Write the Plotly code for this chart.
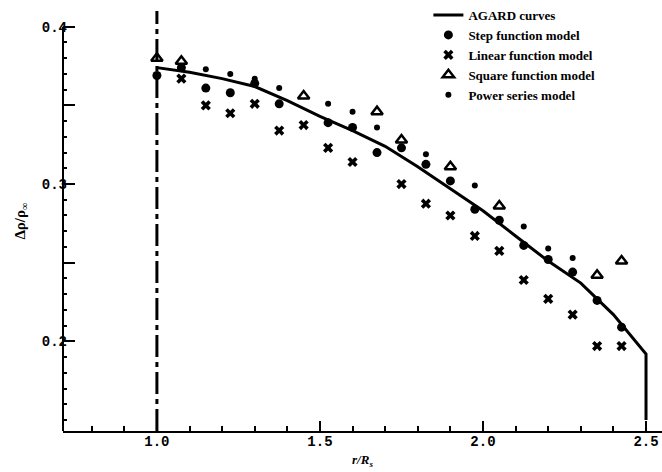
import plotly.graph_objects as go

# AGARD curve
agard_x = [1.0, 1.1, 1.2, 1.3, 1.4, 1.5, 1.6, 1.7, 1.8, 1.9, 2.0, 2.1, 2.2, 2.3, 2.4, 2.5, 2.5]
agard_y = [0.374, 0.371, 0.367, 0.362, 0.353, 0.343, 0.334, 0.324, 0.311, 0.297, 0.283,
           0.267, 0.251, 0.237, 0.217, 0.192, 0.150]

# Step function model
step_x = [1.0, 1.075, 1.15, 1.225, 1.3, 1.375, 1.525, 1.6, 1.675, 1.75, 1.825, 1.9,
          1.975, 2.05, 2.125, 2.2, 2.275, 2.35, 2.425]
step_y = [0.369, 0.374, 0.361, 0.358, 0.364, 0.351, 0.339, 0.336, 0.320, 0.323, 0.3125,
          0.302, 0.284, 0.277, 0.261, 0.252, 0.244, 0.226, 0.209]

# Linear function model
lin_x = [1.075, 1.15, 1.225, 1.3, 1.375, 1.45, 1.525, 1.6, 1.75, 1.825, 1.9, 1.975,
         2.05, 2.125, 2.2, 2.275, 2.35, 2.425]
lin_y = [0.367, 0.350, 0.345, 0.351, 0.334, 0.3375, 0.323, 0.314, 0.300, 0.2875, 0.280,
         0.267, 0.2575, 0.239, 0.227, 0.217, 0.197, 0.197]

# Square function model
sq_x = [1.0, 1.075, 1.45, 1.675, 1.75, 1.9, 2.05, 2.35, 2.425]
sq_y = [0.380, 0.378, 0.356, 0.346, 0.328, 0.311, 0.286, 0.242, 0.251]

# Power series model
pw_x = [1.15, 1.225, 1.3, 1.375, 1.525, 1.6, 1.675, 1.825, 1.975, 2.125, 2.2, 2.275]
pw_y = [0.373, 0.370, 0.367, 0.361, 0.351, 0.346, 0.336, 0.319, 0.299, 0.273, 0.259, 0.253]

x_range = [0.712, 2.549]
y_range = [0.143, 0.410]
y_tickvals = [0.2, 0.25, 0.3, 0.35, 0.4]
y_ticktext = ["0.2", "", "0.3", "", "0.4"]
x_tickvals = [1.0, 1.5, 2.0, 2.5]
x_ticktext = ["1.0", "1.5", "2.0", "2.5"]

FONT = "Liberation Serif"
MONO = "Liberation Mono"
BLACK = "black"

fig = go.Figure()
fig.add_trace(go.Scatter(x=agard_x, y=agard_y, mode="lines", name="AGARD curves",
                         line=dict(color=BLACK, width=3)))
fig.add_trace(go.Scatter(x=step_x, y=step_y, mode="markers", name="Step function model",
                         marker=dict(symbol="circle", size=9, color=BLACK)))
fig.add_trace(go.Scatter(x=lin_x, y=lin_y, mode="markers", name="Linear function model",
                         marker=dict(symbol="x", size=9, color=BLACK)))
fig.add_trace(go.Scatter(x=sq_x, y=sq_y, mode="markers", name="Square function model",
                         marker=dict(symbol="triangle-up-open", size=10, color=BLACK,
                                     line=dict(width=2.5, color=BLACK))))
fig.add_trace(go.Scatter(x=pw_x, y=pw_y, mode="markers", name="Power series model",
                         marker=dict(symbol="circle", size=6, color=BLACK)))

# vertical dash-dot line at r/R = 1.0
fig.add_shape(type="line", xref="x", yref="paper", x0=x_tickvals[0], x1=x_tickvals[0],
              y0=0, y1=1, line=dict(color=BLACK, width=3, dash="22px,5px,5px,5px"), layer="above")
# y axis line from bottom up to 0.4
fig.add_shape(type="line", xref="paper", yref="y", x0=0, x1=0, y0=y_range[0], y1=y_tickvals[-1],
              line=dict(color=BLACK, width=2))

fig.update_layout(
    width=662, height=472,
    margin=dict(l=63, r=0, t=4, b=41),
    paper_bgcolor="white", plot_bgcolor="white",
    font=dict(family=FONT, color=BLACK, size=13),
    showlegend=True,
    legend=dict(x=0.61, y=1.026, xanchor="left", yanchor="top",
                bgcolor="rgba(0,0,0,0)", borderwidth=0,
                font=dict(family=FONT, size=13, color=BLACK, weight="bold"),
                tracegroupgap=0),
    xaxis=dict(range=x_range, showgrid=False, zeroline=False, showline=True,
               linecolor=BLACK, linewidth=2, ticks="inside", ticklen=10, tickwidth=2,
               tickcolor=BLACK, tickvals=x_tickvals, ticktext=x_ticktext,
               ticklabelstandoff=-4,
               tickfont=dict(family=MONO, size=14, weight="bold"),
               minor=dict(dtick=0.1, tick0=0, ticks="inside", ticklen=5, tickwidth=2,
                          tickcolor=BLACK, showgrid=False),
               title=dict(text="<i>r/R<sub>s</sub></i>", standoff=6,
                          font=dict(family=FONT, size=13, weight="bold"))),
    yaxis=dict(range=y_range, showgrid=False, zeroline=False, showline=False,
               ticks="inside", ticklen=12, tickwidth=2, tickcolor=BLACK,
               tickvals=y_tickvals, ticktext=y_ticktext,
               ticklabelstandoff=-5,
               tickfont=dict(family=MONO, size=14, weight="bold"),
               minor=dict(dtick=0.01, tick0=0, ticks="inside", ticklen=4, tickwidth=2,
                          tickcolor=BLACK, showgrid=False),
               title=dict(text="Δρ/ρ<sub>∞</sub>", standoff=12,
                          font=dict(family=FONT, size=15, weight="bold"))),
)

fig.write_html("out.html")
